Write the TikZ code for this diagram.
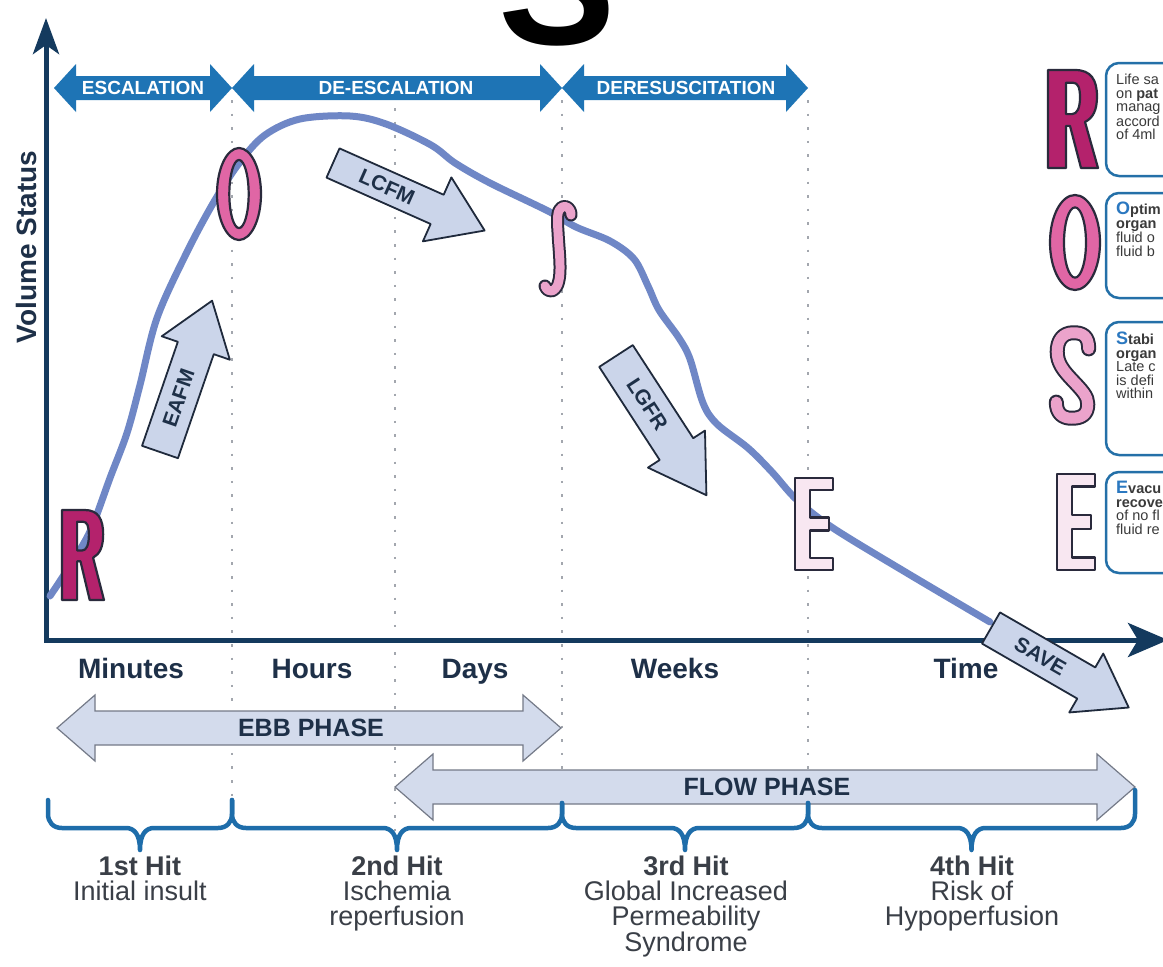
\documentclass[tikz,border=0pt]{standalone}
\usepackage{fontspec}
\setmainfont{Liberation Sans}
\usetikzlibrary{arrows.meta}

\definecolor{navy}{HTML}{143A5E}
\definecolor{bandblue}{HTML}{1E74B5}
\definecolor{bracebl}{HTML}{1E6DAA}
\definecolor{curvecol}{HTML}{6F87C6}
\definecolor{phasefill}{HTML}{D3DBEC}
\definecolor{phaseedge}{HTML}{747A88}
\definecolor{arrfill}{HTML}{CBD5EA}
\definecolor{arredge}{HTML}{1F2A3C}
\definecolor{dotgray}{HTML}{A3A7AE}
\definecolor{txtdark}{HTML}{1E3048}
\definecolor{hitgray}{HTML}{3A3F47}
\definecolor{rmag}{HTML}{B4226C}
\definecolor{opink}{HTML}{E066A5}
\definecolor{spink}{HTML}{EBA3CB}
\definecolor{epink}{HTML}{F8E7F1}
\definecolor{letteredge}{HTML}{2A2A3C}
\definecolor{boxedge}{HTML}{2470A8}
\definecolor{boxtext}{HTML}{3A3A3A}
\definecolor{initblue}{HTML}{2B78C0}

% double-headed band arrow: x1, x2, y centre, body half-height, head half-height, head length, style
\newcommand\bandarrow[7]{%
  \path[#7] (#1,#3) -- ({#1+#6},{#3-#5}) -- ({#1+#6},{#3-#4}) -- ({#2-#6},{#3-#4})
    -- ({#2-#6},{#3-#5}) -- (#2,#3) -- ({#2-#6},{#3+#5}) -- ({#2-#6},{#3+#4})
    -- ({#1+#6},{#3+#4}) -- ({#1+#6},{#3+#5}) -- cycle;}

% block arrow with a label: tail x, tail y, angle, length, body half-width, head half-width, head length, name, text
\newcommand\diagarrow[9]{%
  \begin{scope}[shift={(#1,#2)}, rotate=#3]
    \path[diagshape] (0,-#5) -- ({#4-#7},-#5) -- ({#4-#7},-#6) -- (#4,0)
      -- ({#4-#7},#6) -- ({#4-#7},#5) -- (0,#5) -- cycle;
    \node[diagtext, rotate=#3] (#8) at ({(#4-#7)/2+2},0) {#9};
  \end{scope}}

% outlined block letters, drawn in a 50 x 100 box: x, y (top left), xscale, yscale, fill
\newcommand\rletter[5]{%
  \begin{scope}[shift={(#1,#2)}, xscale=#3, yscale=#4]
    \path[lettershape, fill=#5, even odd rule]
      (0,0) -- (27,0) .. controls (43,0) and (49,10) .. (49,27)
      .. controls (49,41) and (45,49) .. (37,53) -- (50,100) -- (33,100)
      -- (22,57) -- (18,57) -- (18,100) -- (0,100) -- cycle
      (18,13) -- (25,13) .. controls (30,13) and (32,18) .. (32,28)
      .. controls (32,39) and (29,45) .. (24,45) -- (18,45) -- cycle;
  \end{scope}}
\newcommand\oletter[5]{%
  \begin{scope}[shift={(#1,#2)}, xscale=#3, yscale=#4]
    \path[lettershape, fill=#5, even odd rule]
      (25,50) ellipse [x radius=25, y radius=50]
      (25,50) ellipse [x radius=11, y radius=37];
  \end{scope}}
\newcommand\eletter[5]{%
  \begin{scope}[shift={(#1,#2)}, xscale=#3, yscale=#4]
    \path[lettershape, fill=#5]
      (0,0) -- (50,0) -- (50,13) -- (20,13) -- (20,43) -- (45,43) -- (45,57)
      -- (20,57) -- (20,87) -- (50,87) -- (50,100) -- (0,100) -- cycle;
  \end{scope}}
\newcommand\sletter[5]{%
  \begin{scope}[shift={(#1,#2)}, xscale=#3, yscale=#4]
    \def\spath{(43,22) .. controls (43,8) and (36,5) .. (26,5)
      .. controls (14,5) and (8,13) .. (8,25) .. controls (8,37) and (15,45) .. (25,55)
      .. controls (36,66) and (42,72) .. (42,80) .. controls (42,92) and (34,95) .. (24,95)
      .. controls (14,95) and (7,90) .. (7,78)}
    \draw[letteredge, line width=15pt, line cap=round, line join=round] \spath;
    \draw[#5, line width=11pt, line cap=round, line join=round] \spath;
  \end{scope}}
% slender integral-like S on the curve
\newcommand\thinsletter[3]{%
  \begin{scope}[shift={(#1,#2)}]
    \def\spath{(31,13) .. controls (31,6) and (26,3) .. (22,5)
      .. controls (17,8) and (17,16) .. (18,30) .. controls (19,50) and (22,70) .. (18,82)
      .. controls (15,90) and (8,92) .. (5,84)}
    \draw[letteredge, line width=13pt, line cap=round, line join=round] \spath;
    \draw[#3, line width=9pt, line cap=round, line join=round] \spath;
  \end{scope}}

\begin{document}
\begin{tikzpicture}[x=1pt, y=-1pt,
  dotline/.style={dotgray, line width=2.6pt, dash pattern=on 2.6pt off 11pt},
  bandshape/.style={fill=bandblue},
  bandtext/.style={text=white, font=\fontsize{19}{19}\selectfont\bfseries, inner sep=1pt},
  phaseshape/.style={fill=phasefill, draw=phaseedge, line width=1.2pt, line join=miter},
  phasetext/.style={text=txtdark, font=\fontsize{25}{25}\selectfont\bfseries},
  axisline/.style={navy, line width=5pt, line join=miter},
  curveline/.style={curvecol, line width=7pt, line cap=round, line join=round},
  diagshape/.style={fill=arrfill, draw=arredge, line width=1.8pt, line join=round},
  diagtext/.style={text=txtdark, font=\fontsize{21}{21}\selectfont\bfseries},
  lettershape/.style={draw=letteredge, line width=2.2pt, line join=round},
  timelabel/.style={text=txtdark, font=\fontsize{28}{28}\selectfont\bfseries},
  bracepath/.style={bracebl, line width=4.5pt, line cap=round, line join=round},
  hittext/.style={text=hitgray, font=\fontsize{27}{25}\selectfont, align=center, anchor=north, inner sep=0pt},
  legbox/.style={draw=boxedge, line width=2.5pt, rounded corners=13pt},
  legtext/.style={text=boxtext, font=\fontsize{14.5}{13.5}\selectfont, align=left, anchor=north west, inner sep=0pt}
]
\useasboundingbox (0,0) rectangle (1163,967);
\fill[white] (0,0) rectangle (1163,967);
\clip (0,0) rectangle (1163,967);

% large heading letter running off the top edge
\node[font=\fontsize{176}{176}\selectfont\bfseries, anchor=base, inner sep=0pt, text=black] (bigS) at (557,44) {S};

% time boundaries
\draw[dotline] (232,100) -- (232,800);
\draw[dotline] (395,108) -- (395,835);
\draw[dotline] (562,100) -- (562,800);
\draw[dotline] (808,100) -- (808,800);

% treatment stages
\bandarrow{54}{232}{88}{12}{24}{22}{bandshape}
\bandarrow{232}{562}{88}{12}{24}{22}{bandshape}
\bandarrow{562}{808}{88}{12}{24}{22}{bandshape}
\node[bandtext] (esc) at (143,88) {ESCALATION};
\node[bandtext] (desc) at (396,88) {DE-ESCALATION};
\node[bandtext] (deres) at (686,88) {DERESUSCITATION};

% phases
\bandarrow{57}{561}{728}{17}{33}{38}{phaseshape}
\node[phasetext] (ebb) at (311,728) {EBB PHASE};
\bandarrow{395}{1135}{787}{17}{33}{38}{phaseshape}
\node[phasetext] (flow) at (767,787) {FLOW PHASE};

% axes
\draw[axisline, {Stealth[length=36pt,width=26pt,inset=9pt]}-{Stealth[length=40pt,width=34pt,inset=10pt]}]
  (46,18) -- (46,640) -- (1168,640);
\node[timelabel, rotate=90] (vol) at (26,247) {Volume Status};

% volume curve
\draw[curveline] plot[smooth, tension=0.55] coordinates {
  (50,596) (62,578) (78,553) (92,527) (110,478) (127,433) (140,385) (157,318)
  (187,252) (215,200) (240,162) (265,135) (300,119) (350,116) (386,124) (431,145)
  (455,163) (490,183) (548,211) (576,227) (610,241) (634,259) (648,286) (659,310)
  (679,338) (690,359) (703,403) (717,424) (748,448) (772,472) (797,500) (833,528)
  (907,573) (990,622)};

% fluid strategy arrows
\diagarrow{160}{452}{71}{160}{19}{36}{50}{eafm}{EAFM}
\diagarrow{333}{163}{-24}{166}{16}{35}{52}{lcfm}{LCFM}
\diagarrow{616}{356}{-57}{166}{20}{34}{55}{lgfr}{LGFR}
\diagarrow{991}{628}{-30}{159}{18}{34}{49}{save}{SAVE}

% letters on the curve
\rletter{62}{510}{0.84}{0.9}{rmag}
\oletter{217}{148}{0.88}{0.92}{opink}
\thinsletter{540}{202}{spink}
\eletter{795}{478}{0.76}{0.92}{epink}

% time scale
\node[timelabel, anchor=base] (minutes) at (131,678) {Minutes};
\node[timelabel, anchor=base] (hours) at (312,678) {Hours};
\node[timelabel, anchor=base] (days) at (475,678) {Days};
\node[timelabel, anchor=base] (weeks) at (675,678) {Weeks};
\node[timelabel, anchor=base] (time) at (966,678) {Time};

% hits
\foreach \xa/\xb/\ya/\yb in {48/232/800/800, 232/562/800/803, 562/808/803/803, 808/1135/803/790}{
  \pgfmathsetmacro\xm{(\xa+\xb)/2}
  \draw[bracepath] (\xa,\ya) -- (\xa,814) .. controls (\xa,822) and (\xa+5,828) .. (\xa+14,828)
    -- (\xm-14,828) .. controls (\xm-6,828) and (\xm,834) .. (\xm,850)
    .. controls (\xm,834) and (\xm+6,828) .. (\xm+14,828)
    -- (\xb-14,828) .. controls (\xb-5,828) and (\xb,822) .. (\xb,814) -- (\xb,\yb);
}
\node[hittext] (hit1) at (140,856) {\textbf{1st Hit}\\Initial insult};
\node[hittext] (hit2) at (397,856) {\textbf{2nd Hit}\\Ischemia\\reperfusion};
\node[hittext] (hit3) at (686,856) {\textbf{3rd Hit}\\Global Increased\\Permeability\\Syndrome};
\node[hittext] (hit4) at (972,856) {\textbf{4th Hit}\\Risk of\\Hypoperfusion};

% ROSE legend
\rletter{1048}{70}{1.0}{0.98}{rmag}
\draw[legbox] (1106,63) rectangle (1215,176);
\node[legtext] (rtext) at (1116,74) {Life sa\\on \textbf{pat}\\manag\\accord\\of 4ml};

\oletter{1050}{195}{1.0}{0.95}{opink}
\draw[legbox] (1106,193) rectangle (1215,298);
\node[legtext] (otext) at (1116,202) {\textbf{{\color{initblue}\fontsize{18}{13.5}\selectfont O}ptim}\\\textbf{organ}\\fluid o\\fluid b};

\sletter{1050}{328}{0.9}{0.95}{spink}
\draw[legbox] (1106,322) rectangle (1215,455);
\node[legtext] (stext) at (1116,332) {\textbf{{\color{initblue}\fontsize{18}{13.5}\selectfont S}tabi}\\\textbf{organ}\\Late c\\is defi\\within};

\eletter{1057}{474}{0.76}{0.96}{epink}
\draw[legbox] (1106,472) rectangle (1215,573);
\node[legtext] (etext) at (1116,481) {\textbf{{\color{initblue}\fontsize{18}{13.5}\selectfont E}vacu}\\\textbf{recove}\\of no fl\\fluid re};
\end{tikzpicture}
\end{document}
